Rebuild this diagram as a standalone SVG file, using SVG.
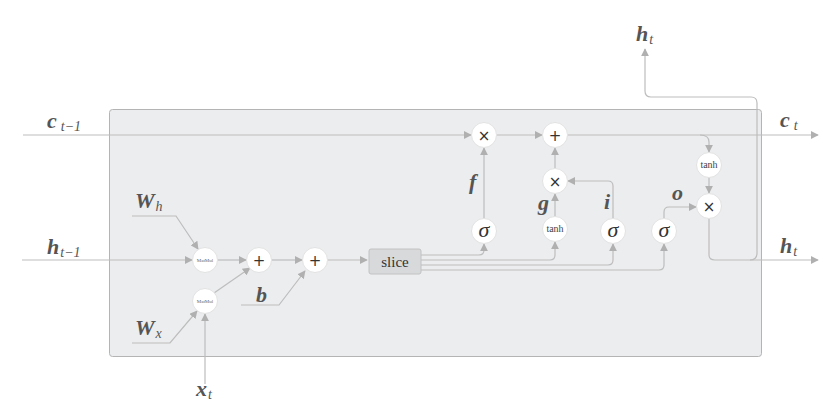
<svg xmlns="http://www.w3.org/2000/svg" width="837" height="412" viewBox="0 0 837 412">
<style>
.ln{fill:none;stroke:#bdbdbd;stroke-width:1.2}
.nd{fill:#fff;stroke:#e2e2e2;stroke-width:1}
.op{font-family:"DejaVu Sans",sans-serif;fill:#333;text-anchor:middle;font-size:15px}
.sg{font-family:"Liberation Serif",serif;font-style:italic;fill:#333;text-anchor:middle;font-size:22px}
.tn{font-family:"Liberation Serif",serif;fill:#444;text-anchor:middle;font-size:10px}
.mm{font-family:"Liberation Serif",serif;fill:#666;text-anchor:middle;font-size:5px}
.lb{font-family:"Liberation Serif",serif;font-style:italic;font-weight:bold;fill:#555;font-size:22px}
.sb{font-family:"Liberation Serif",serif;font-style:italic;font-weight:normal;fill:#555;font-size:14px}
.gl{font-family:"Liberation Serif",serif;font-style:italic;font-weight:bold;fill:#555;font-size:22px}
</style>
<defs>
<marker id="ar" viewBox="0 0 10 10" refX="9" refY="5" markerWidth="8" markerHeight="8" markerUnits="userSpaceOnUse" orient="auto">
<path d="M0,0 L10,5 L0,10 z" fill="#b0b0b0"/>
</marker>
</defs>
<rect x="109.5" y="109.5" width="652" height="247" rx="3" fill="#ecedef" stroke="#b4b4b4" stroke-width="1"/>
<g id="connectors">
<path class="ln" d="M23 135 H471" marker-end="url(#ar)"/>
<path class="ln" d="M497 135 H542" marker-end="url(#ar)"/>
<path class="ln" d="M568 135 H818" marker-end="url(#ar)"/>
<path class="ln" d="M700 135 Q709 135 709 142 V152" marker-end="url(#ar)"/>
<path class="ln" d="M709 178 V193" marker-end="url(#ar)"/>
<path class="ln" d="M709 219 V255 Q709 260 715 260 H818" marker-end="url(#ar)"/>
<path class="ln" d="M750 260 Q757 260 757 253 V103 Q757 97 751 97 H651 Q645 97 645 91 V49" marker-end="url(#ar)"/>
<path class="ln" d="M22 260 H192" marker-end="url(#ar)"/>
<path class="ln" d="M218 260 H246" marker-end="url(#ar)"/>
<path class="ln" d="M272 260 H302" marker-end="url(#ar)"/>
<path class="ln" d="M328 260 H367" marker-end="url(#ar)"/>
<path class="ln" d="M132 216 H176 L198 249" marker-end="url(#ar)"/>
<path class="ln" d="M132 343 H170 L197 311" marker-end="url(#ar)"/>
<path class="ln" d="M205 384 V314" marker-end="url(#ar)"/>
<path class="ln" d="M214 293 L250 268" marker-end="url(#ar)"/>
<path class="ln" d="M241 305 H279 L305 271" marker-end="url(#ar)"/>
<path class="ln" d="M421 255 H479 Q484 255 484 250 V244" marker-end="url(#ar)"/>
<path class="ln" d="M421 260 H550 Q555 260 555 255 V242" marker-end="url(#ar)"/>
<path class="ln" d="M421 265 H608 Q613 265 613 260 V244" marker-end="url(#ar)"/>
<path class="ln" d="M421 270 H659 Q664 270 664 265 V244" marker-end="url(#ar)"/>
<path class="ln" d="M484 218 V148" marker-end="url(#ar)"/>
<path class="ln" d="M555 216 V194" marker-end="url(#ar)"/>
<path class="ln" d="M555 168 V148" marker-end="url(#ar)"/>
<path class="ln" d="M613 218 V186 Q613 181 608 181 H568" marker-end="url(#ar)"/>
<path class="ln" d="M664 218 V212 Q664 207 669 207 H696" marker-end="url(#ar)"/>
</g>
<g id="mul_f"><circle class="nd" cx="484" cy="135" r="12.5"/><text class="op" x="484" y="140.5">×</text></g>
<g id="add_c"><circle class="nd" cx="555" cy="135" r="12.5"/><text class="op" x="555" y="140.5">+</text></g>
<g id="mul_i"><circle class="nd" cx="555" cy="181" r="12.5"/><text class="op" x="555" y="186.5">×</text></g>
<g id="tanh_g"><circle class="nd" cx="555" cy="229" r="12.5"/><text class="tn" x="555" y="232">tanh</text></g>
<g id="sig_f"><circle class="nd" cx="484" cy="231" r="12.5"/><text class="sg" x="484" y="237">σ</text></g>
<g id="sig_i"><circle class="nd" cx="613" cy="231" r="12.5"/><text class="sg" x="613" y="237">σ</text></g>
<g id="sig_o"><circle class="nd" cx="664" cy="231" r="12.5"/><text class="sg" x="664" y="237">σ</text></g>
<g id="tanh_c"><circle class="nd" cx="709" cy="165" r="12.5"/><text class="tn" x="709" y="168">tanh</text></g>
<g id="mul_o"><circle class="nd" cx="709" cy="206" r="12.5"/><text class="op" x="709" y="211.5">×</text></g>
<g id="matmul_h"><circle class="nd" cx="205" cy="260" r="12.5"/><text class="mm" x="205" y="262">MatMul</text></g>
<g id="matmul_x"><circle class="nd" cx="205" cy="301" r="12.5"/><text class="mm" x="205" y="303">MatMul</text></g>
<g id="add1"><circle class="nd" cx="259" cy="260" r="12.5"/><text class="op" x="259" y="265.5">+</text></g>
<g id="add2"><circle class="nd" cx="315" cy="260" r="12.5"/><text class="op" x="315" y="265.5">+</text></g>
<g id="slice"><rect x="369" y="249" width="52" height="25" rx="2" fill="#d8d9db" stroke="#c2c2c2"/><text x="395" y="267" font-family="Liberation Serif,serif" font-size="15" fill="#333" text-anchor="middle">slice</text></g>
<g id="labels">
<text class="lb" x="47" y="128">c<tspan class="sb" dx="4" dy="3">t</tspan><tspan class="sb" font-style="normal" dy="0">−1</tspan></text>
<text class="lb" x="47" y="254">h<tspan class="sb" dx="1" dy="3">t</tspan><tspan class="sb" font-style="normal">−1</tspan></text>
<text class="lb" x="135" y="208">W<tspan class="sb" dx="1" dy="3">h</tspan></text>
<text class="lb" x="135" y="335">W<tspan class="sb" dx="1" dy="3">x</tspan></text>
<text class="lb" x="196" y="396">x<tspan class="sb" dx="1" dy="3">t</tspan></text>
<text class="lb" x="256" y="302">b</text>
<text class="lb" x="636" y="41">h<tspan class="sb" dx="1" dy="3">t</tspan></text>
<text class="lb" x="780" y="127">c<tspan class="sb" dx="4" dy="3">t</tspan></text>
<text class="lb" x="780" y="253">h<tspan class="sb" dx="1" dy="3">t</tspan></text>
<text class="gl" x="469" y="189">f</text>
<text class="gl" x="538" y="210">g</text>
<text class="gl" x="604" y="209">i</text>
<text class="gl" x="672" y="200">o</text>
</g>
</svg>
